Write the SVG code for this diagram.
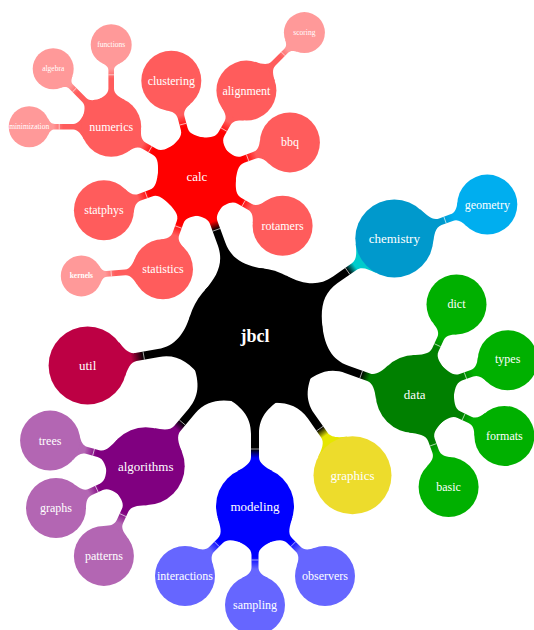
<svg xmlns="http://www.w3.org/2000/svg" xmlns:xlink="http://www.w3.org/1999/xlink" width="534" height="630" viewBox="0 0 534 630">
<style>
text{font-family:"Liberation Serif",serif;fill:#fff;text-anchor:middle;dominant-baseline:central}
.t0{font-size:18px;font-weight:bold}
.t1{font-size:13px}
.t2{font-size:12px}
.t3{font-size:7.5px}
.seam{stroke:#fff;stroke-width:0.7;stroke-opacity:0.85}
.root{fill:#000}
.calc{fill:#FF0000}.red2{fill:#FF5C5C}.red3{fill:#FF9999}
.chem{fill:#0099CC}.geo{fill:#00AEEF}
.data{fill:#008000}.green2{fill:#00B000}
.gfx{fill:#EDDC2C}
.model{fill:#0000FF}.blue2{fill:#6666FF}
.algo{fill:#800080}.purple2{fill:#B366B3}
.util{fill:#BD0044}
</style>
<defs>
<linearGradient id="gA-calc" gradientUnits="userSpaceOnUse" x1="48" y1="0" x2="57" y2="0"><stop offset="0" stop-color="#FF0000"/><stop offset="1" stop-color="#000"/></linearGradient>
<linearGradient id="gA-chem" gradientUnits="userSpaceOnUse" x1="48" y1="0" x2="57" y2="0"><stop offset="0" stop-color="#00CCCC"/><stop offset="1" stop-color="#000"/></linearGradient>
<linearGradient id="gA-data" gradientUnits="userSpaceOnUse" x1="48" y1="0" x2="57" y2="0"><stop offset="0" stop-color="#008000"/><stop offset="1" stop-color="#000"/></linearGradient>
<linearGradient id="gA-gfx" gradientUnits="userSpaceOnUse" x1="48" y1="0" x2="57" y2="0"><stop offset="0" stop-color="#E6E600"/><stop offset="1" stop-color="#000"/></linearGradient>
<linearGradient id="gA-model" gradientUnits="userSpaceOnUse" x1="48" y1="0" x2="57" y2="0"><stop offset="0" stop-color="#0000FF"/><stop offset="1" stop-color="#000"/></linearGradient>
<linearGradient id="gA-algo" gradientUnits="userSpaceOnUse" x1="48" y1="0" x2="57" y2="0"><stop offset="0" stop-color="#800080"/><stop offset="1" stop-color="#000"/></linearGradient>
<linearGradient id="gA-util" gradientUnits="userSpaceOnUse" x1="44" y1="0" x2="57" y2="0"><stop offset="0" stop-color="#BD0044"/><stop offset="1" stop-color="#000"/></linearGradient>
<linearGradient id="gB-calc" gradientUnits="userSpaceOnUse" x1="36" y1="0" x2="48" y2="0"><stop offset="0" stop-color="#FF5C5C"/><stop offset="1" stop-color="#FF0000"/></linearGradient>
<linearGradient id="gB-chem" gradientUnits="userSpaceOnUse" x1="36" y1="0" x2="48" y2="0"><stop offset="0" stop-color="#00AEEF"/><stop offset="1" stop-color="#0099CC"/></linearGradient>
<linearGradient id="gB-data" gradientUnits="userSpaceOnUse" x1="36" y1="0" x2="48" y2="0"><stop offset="0" stop-color="#00B000"/><stop offset="1" stop-color="#008000"/></linearGradient>
<linearGradient id="gB-model" gradientUnits="userSpaceOnUse" x1="36" y1="0" x2="48" y2="0"><stop offset="0" stop-color="#6666FF"/><stop offset="1" stop-color="#0000FF"/></linearGradient>
<linearGradient id="gB-algo" gradientUnits="userSpaceOnUse" x1="36" y1="0" x2="48" y2="0"><stop offset="0" stop-color="#B366B3"/><stop offset="1" stop-color="#800080"/></linearGradient>
<linearGradient id="gC-red" gradientUnits="userSpaceOnUse" x1="24" y1="0" x2="34" y2="0"><stop offset="0" stop-color="#FF9999"/><stop offset="1" stop-color="#FF5C5C"/></linearGradient>
<g id="cA">
<path d="M34.64,-18 C38.79,-10.01 43,-4 49,-4 L72,-4 C90,-4 100.59,-14.35 110,-32 L110,32 C100.59,14.35 90,4 72,4 L49,4 C43,4 38.79,10.01 34.64,18 Z"/>
<line class="seam" x1="57" y1="-4" x2="57" y2="4"/>
</g>
<g id="cB">
<path d="M27.04,-13 C30.07,-6.69 33,-3.5 38,-3.5 L50,-3.5 C57,-3.5 60.07,-10.27 64.94,-19 L64.94,19 C60.07,10.27 57,3.5 50,3.5 L38,3.5 C33,3.5 30.07,6.69 27.04,13 Z"/>
<line class="seam" x1="45" y1="-3.5" x2="45" y2="3.5"/>
</g>
<g id="cC">
<path d="M18.42,-9 C20.62,-4.51 22.5,-2.8 25.5,-2.8 L44,-2.8 C49,-2.8 52.2,-7.81 55.47,-14 L55.47,14 C52.2,7.81 49,2.8 44,2.8 L25.5,2.8 C22.5,2.8 20.62,4.51 18.42,9 Z"/>
<line class="seam" x1="30" y1="-2.8" x2="30" y2="2.8"/>
</g>
</defs>
<g id="connectors">
<use xlink:href="#cA" href="#cA" fill="url(#gA-calc)" transform="translate(196.9,176.3) rotate(70)"/>
<use xlink:href="#cA" href="#cA" fill="url(#gA-chem)" transform="translate(394.3,238.5) rotate(145)"/>
<use xlink:href="#cA" href="#cA" fill="url(#gA-data)" transform="translate(414.7,394.1) rotate(200)"/>
<use xlink:href="#cA" href="#cA" fill="url(#gA-gfx)" transform="translate(352.5,475.3) rotate(235)"/>
<use xlink:href="#cA" href="#cA" fill="url(#gA-model)" transform="translate(255,506) rotate(270)"/>
<use xlink:href="#cA" href="#cA" fill="url(#gA-algo)" transform="translate(145.7,466.2) rotate(310)"/>
<use xlink:href="#cA" href="#cA" fill="url(#gA-util)" transform="translate(87.6,365.5) rotate(-10)"/>
<use xlink:href="#cB" href="#cB" fill="url(#gB-calc)" transform="translate(111.2,126.8) rotate(30)"/>
<use xlink:href="#cB" href="#cB" fill="url(#gB-calc)" transform="translate(171.3,80.7) rotate(75)"/>
<use xlink:href="#cB" href="#cB" fill="url(#gB-calc)" transform="translate(246.4,90.6) rotate(120)"/>
<use xlink:href="#cB" href="#cB" fill="url(#gB-calc)" transform="translate(289.9,142.4) rotate(160)"/>
<use xlink:href="#cB" href="#cB" fill="url(#gB-calc)" transform="translate(282.6,225.8) rotate(210)"/>
<use xlink:href="#cB" href="#cB" fill="url(#gB-calc)" transform="translate(163,269.3) rotate(290)"/>
<use xlink:href="#cB" href="#cB" fill="url(#gB-calc)" transform="translate(103.9,210.2) rotate(340)"/>
<use xlink:href="#cB" href="#cB" fill="url(#gB-chem)" transform="translate(487.3,204.6) rotate(160)"/>
<use xlink:href="#cB" href="#cB" fill="url(#gB-data)" transform="translate(456.5,304.4) rotate(115)"/>
<use xlink:href="#cB" href="#cB" fill="url(#gB-data)" transform="translate(507.7,360.2) rotate(160)"/>
<use xlink:href="#cB" href="#cB" fill="url(#gB-data)" transform="translate(504.4,435.9) rotate(205)"/>
<use xlink:href="#cB" href="#cB" fill="url(#gB-data)" transform="translate(448.6,487.1) rotate(250)"/>
<use xlink:href="#cB" href="#cB" fill="url(#gB-model)" transform="translate(185,576) rotate(315)"/>
<use xlink:href="#cB" href="#cB" fill="url(#gB-model)" transform="translate(255,605) rotate(270)"/>
<use xlink:href="#cB" href="#cB" fill="url(#gB-model)" transform="translate(325,576) rotate(225)"/>
<use xlink:href="#cB" href="#cB" fill="url(#gB-algo)" transform="translate(50.1,440.6) rotate(15)"/>
<use xlink:href="#cB" href="#cB" fill="url(#gB-algo)" transform="translate(56,508) rotate(335)"/>
<use xlink:href="#cB" href="#cB" fill="url(#gB-algo)" transform="translate(103.9,555.9) rotate(295)"/>
<use xlink:href="#cC" href="#cC" fill="url(#gC-red)" transform="translate(111.2,44.8) rotate(90)"/>
<use xlink:href="#cC" href="#cC" fill="url(#gC-red)" transform="translate(53.2,68.8) rotate(45)"/>
<use xlink:href="#cC" href="#cC" fill="url(#gC-red)" transform="translate(29.2,126.8) rotate(0)"/>
<use xlink:href="#cC" href="#cC" fill="url(#gC-red)" transform="translate(304.4,32.6) rotate(135)"/>
<use xlink:href="#cC" href="#cC" fill="url(#gC-red)" transform="translate(81.3,275.9) rotate(355.4)"/>
</g>
<g id="jbcl"><circle class="root" cx="255" cy="336" r="68"/><text class="t0" x="255" y="336">jbcl</text></g>
<g id="calc"><circle class="calc" cx="196.9" cy="176.3" r="39"/><text class="t1" x="196.9" y="176.3">calc</text></g>
<g id="numerics"><circle class="red2" cx="111.2" cy="126.8" r="30"/><text class="t2" x="111.2" y="126.8">numerics</text></g>
<g id="functions"><circle class="red3" cx="111.2" cy="44.8" r="20.5"/><text class="t3" x="111.2" y="44.8">functions</text></g>
<g id="algebra"><circle class="red3" cx="53.2" cy="68.8" r="20.5"/><text class="t3" x="53.2" y="68.8">algebra</text></g>
<g id="minimization"><circle class="red3" cx="29.2" cy="126.8" r="20.5"/><text class="t3" x="29.2" y="126.8">minimization</text></g>
<g id="clustering"><circle class="red2" cx="171.3" cy="80.7" r="30"/><text class="t2" x="171.3" y="80.7">clustering</text></g>
<g id="alignment"><circle class="red2" cx="246.4" cy="90.6" r="30"/><text class="t2" x="246.4" y="90.6">alignment</text></g>
<g id="scoring"><circle class="red3" cx="304.4" cy="32.6" r="20.5"/><text class="t3" x="304.4" y="32.6">scoring</text></g>
<g id="bbq"><circle class="red2" cx="289.9" cy="142.4" r="30"/><text class="t2" x="289.9" y="142.4">bbq</text></g>
<g id="rotamers"><circle class="red2" cx="282.6" cy="225.8" r="30"/><text class="t2" x="282.6" y="225.8">rotamers</text></g>
<g id="statistics"><circle class="red2" cx="163" cy="269.3" r="30"/><text class="t2" x="163" y="269.3">statistics</text></g>
<g id="kernels"><circle class="red3" cx="81.3" cy="275.9" r="20.5"/><text class="t3" x="81.3" y="275.9" font-weight="bold">kernels</text></g>
<g id="statphys"><circle class="red2" cx="103.9" cy="210.2" r="30"/><text class="t2" x="103.9" y="210.2">statphys</text></g>
<g id="chemistry"><circle class="chem" cx="394.3" cy="238.5" r="39"/><text class="t1" x="394.3" y="238.5">chemistry</text></g>
<g id="geometry"><circle class="geo" cx="487.3" cy="204.6" r="30"/><text class="t2" x="487.3" y="204.6">geometry</text></g>
<g id="data"><circle class="data" cx="414.7" cy="394.1" r="39"/><text class="t1" x="414.7" y="394.1">data</text></g>
<g id="dict"><circle class="green2" cx="456.5" cy="304.4" r="30"/><text class="t2" x="456.5" y="304.4">dict</text></g>
<g id="types"><circle class="green2" cx="507.7" cy="360.2" r="30"/><text class="t2" x="507.7" y="358.5">types</text></g>
<g id="formats"><circle class="green2" cx="504.4" cy="435.9" r="30"/><text class="t2" x="504.4" y="435.9">formats</text></g>
<g id="basic"><circle class="green2" cx="448.6" cy="487.1" r="30"/><text class="t2" x="448.6" y="487.1">basic</text></g>
<g id="graphics"><circle class="gfx" cx="352.5" cy="475.3" r="39"/><text class="t1" x="352.5" y="475.3">graphics</text></g>
<g id="modeling"><circle class="model" cx="255" cy="506" r="39"/><text class="t1" x="255" y="506">modeling</text></g>
<g id="interactions"><circle class="blue2" cx="185" cy="576" r="30"/><text class="t2" x="185" y="576">interactions</text></g>
<g id="sampling"><circle class="blue2" cx="255" cy="605" r="30"/><text class="t2" x="255" y="605">sampling</text></g>
<g id="observers"><circle class="blue2" cx="325" cy="576" r="30"/><text class="t2" x="325" y="576">observers</text></g>
<g id="algorithms"><circle class="algo" cx="145.7" cy="466.2" r="39"/><text class="t1" x="145.7" y="466.2">algorithms</text></g>
<g id="trees"><circle class="purple2" cx="50.1" cy="440.6" r="30"/><text class="t2" x="50.1" y="440.6">trees</text></g>
<g id="graphs"><circle class="purple2" cx="56" cy="508" r="30"/><text class="t2" x="56" y="508">graphs</text></g>
<g id="patterns"><circle class="purple2" cx="103.9" cy="555.9" r="30"/><text class="t2" x="103.9" y="555.9">patterns</text></g>
<g id="util"><circle class="util" cx="87.6" cy="365.5" r="39"/><text class="t1" x="87.6" y="365.5">util</text></g>
</svg>
